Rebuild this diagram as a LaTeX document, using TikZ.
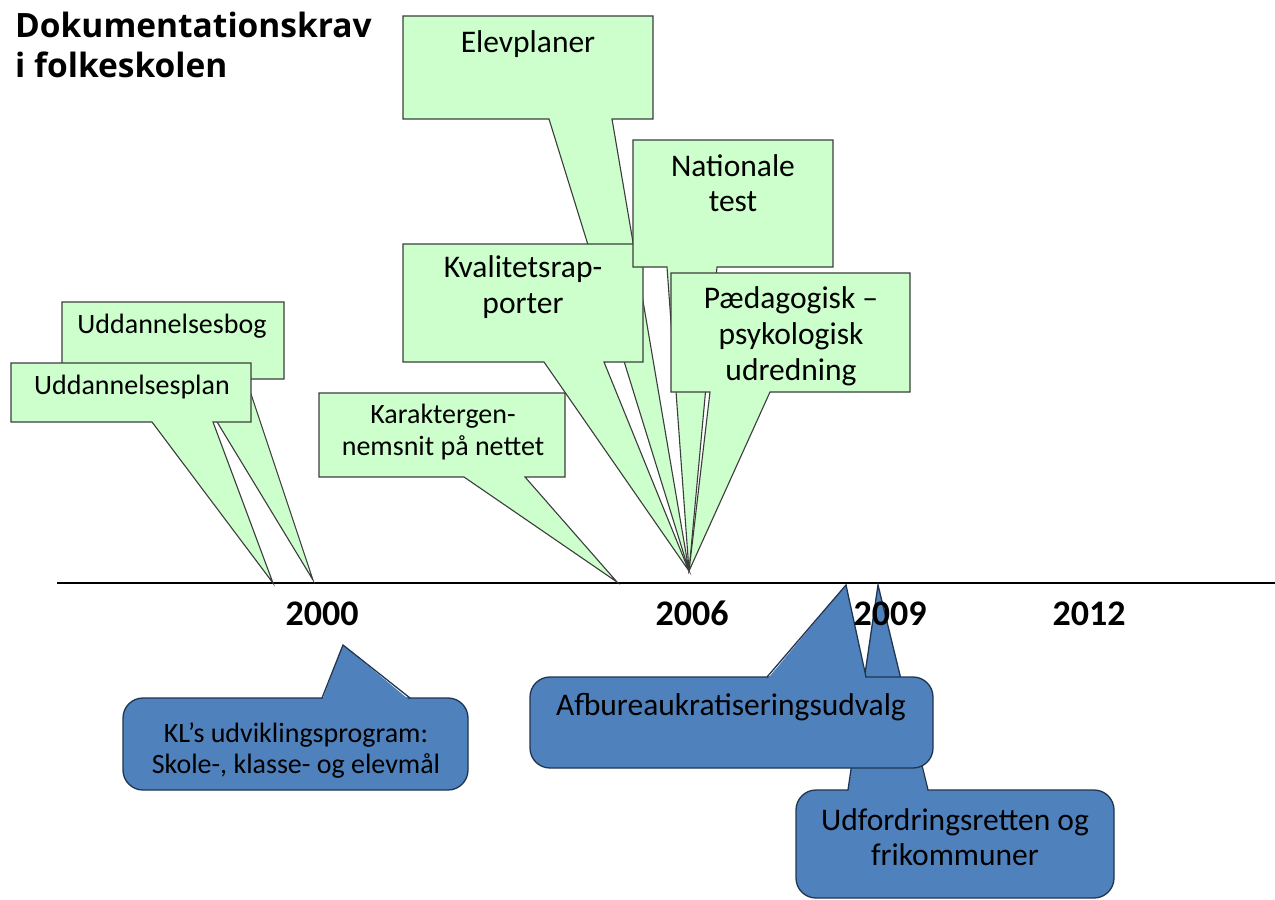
\documentclass[tikz,border=0pt]{standalone}
\usepackage{fontspec}
\setmainfont{Carlito}
\newfontfamily\headfont{Open Sans}
\usetikzlibrary{arrows.meta}

\definecolor{calloutgreen}{HTML}{CCFFCC}
\definecolor{greenline}{HTML}{3C3C3C}
\definecolor{calloutblue}{HTML}{4F81BD}
\definecolor{blueline}{HTML}{1F3550}

\tikzset{
  greenbox/.style={fill=calloutgreen, draw=greenline, line width=1.1pt},
  bluebox/.style={fill=calloutblue, draw=blueline, line width=1.3pt, rounded corners=20pt},
  blueedge/.style={draw=blueline, line width=1.3pt, line cap=round},
  bigtxt/.style={font=\fontsize{31.5}{36}\selectfont, anchor=base, inner sep=0pt},
  smalltxt/.style={font=\fontsize{28}{32}\selectfont, anchor=base, inner sep=0pt},
  yeartxt/.style={font=\bfseries\fontsize{36}{40}\selectfont, anchor=base, inner sep=0pt},
  headtxt/.style={font=\headfont\bfseries\fontsize{33.5}{40}\selectfont, anchor=base west, inner sep=0pt},
}

% rectangular callout: left, top, right, bottom, wedge base left, wedge base right, tip
\newcommand\wedgebox[7]{%
  \path[greenbox] (#1,#2) -- (#3,#2) -- (#3,#4) -- (#6,#4) -- (#7) -- (#5,#4) -- (#1,#4) -- cycle;}

% rounded callout with the wedge on its top edge
\newcommand\roundwedgebox[7]{%
  \path[bluebox] (#1,#2) rectangle (#3,#4);
  \fill[calloutblue] (#5,#2+2.5) -- (#7) -- (#6,#2+2.5) -- cycle;
  \path[blueedge] (#5,#2) -- (#7) -- (#6,#2);}

\begin{document}
\begin{tikzpicture}[x=1pt,y=-1pt]
\useasboundingbox (0,0) rectangle (1275,900);

% heading
\node[headtxt] (head1) at (15,37) {Dokumentationskrav};
\node[headtxt] (head2) at (15,77) {i folkeskolen};

% time axis
\coordinate (axisL) at (57,583);
\coordinate (axisR) at (1285,583);
\draw[line width=1.8pt, -{Triangle[length=10pt,width=12pt]}] (axisL) -- (axisR);

% wedge tips
\coordinate (tipBog)  at (313,580);
\coordinate (tipPlan) at (273,583);
\coordinate (tipKar)  at (617,582);
\coordinate (tip2006) at (689,571);
\coordinate (tipKL)   at (343,645);
\coordinate (tipUdf)  at (878,585);
\coordinate (tipAfb)  at (846,585);

% green callouts
\wedgebox{62}{302}{284}{379}{191}{246}{tipBog}
\node[smalltxt] (tBog) at (172,333) {Uddannelsesbog};

\wedgebox{11}{363}{251}{422}{152}{213}{tipPlan}
\node[smalltxt] (tPlan) at (132,394) {Uddannelsesplan};

\wedgebox{319}{393}{565}{477}{464}{525}{tipKar}
\node[smalltxt] (tKar1) at (443,423) {Karaktergen-};
\node[smalltxt] (tKar2) at (443,455) {nemsnit på nettet};

\wedgebox{403}{16}{653}{119}{549}{612}{tip2006}
\node[bigtxt] (tElev) at (528,52) {Elevplaner};

\wedgebox{403}{244}{643}{362}{544}{604}{tip2006}
\node[bigtxt] (tKval1) at (523,277) {Kvalitetsrap-};
\node[bigtxt] (tKval2) at (523,313) {porter};

\wedgebox{633}{140}{833}{267}{667}{717}{tip2006}
\node[bigtxt] (tNat1) at (733,176) {Nationale};
\node[bigtxt] (tNat2) at (733,211) {test};

\wedgebox{671}{273}{910}{392}{710}{770}{tip2006}
\node[bigtxt] (tPpu1) at (791,308) {Pædagogisk –};
\node[bigtxt] (tPpu2) at (791,344) {psykologisk};
\node[bigtxt] (tPpu3) at (791,380) {udredning};

% blue callouts
\roundwedgebox{123}{698}{468}{790}{322}{410}{tipKL}
\node[smalltxt] (tKL1) at (296,742) {KL’s udviklingsprogram:};
\node[smalltxt] (tKL2) at (296,773) {Skole-, klasse- og elevmål};

\roundwedgebox{796}{790}{1114}{898}{848}{928}{tipUdf}
\node[bigtxt] (tUdf1) at (955,830) {Udfordringsretten og};
\node[bigtxt] (tUdf2) at (955,865) {frikommuner};

\roundwedgebox{530}{677}{933}{768}{767}{866}{tipAfb}
\node[bigtxt] (tAfb) at (731,715) {Afbureaukratiseringsudvalg};

% years
\node[yeartxt] (y2000) at (322,625) {2000};
\node[yeartxt] (y2006) at (692,625) {2006};
\node[yeartxt] (y2009) at (890,625) {2009};
\node[yeartxt] (y2012) at (1089,625) {2012};
\end{tikzpicture}
\end{document}
